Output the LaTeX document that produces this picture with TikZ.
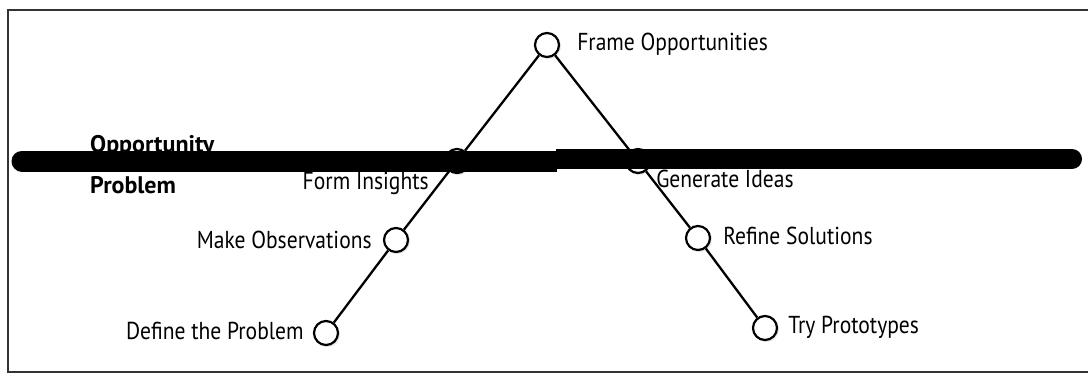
\documentclass[tikz,border=0pt]{standalone}
\usepackage{fontspec}
\setmainfont{PT Sans}[FakeStretch=0.88]
\newfontfamily\sidesans{PT Sans}
\usetikzlibrary{positioning,shadows}

\begin{document}
\begin{tikzpicture}[x=1pt,y=-1pt,
  stage/.style={circle,draw,line width=2.2pt,fill=white,minimum size=24pt,inner sep=0pt,
    circular drop shadow={shadow xshift=1pt,shadow yshift=-1pt,opacity=.25}},
  lbl/.style={inner sep=0pt,font=\fontsize{24.5}{28}\selectfont,text height=17pt,text depth=0pt},
  side/.style={inner sep=0pt,font=\sidesans\fontsize{24}{28}\selectfont\bfseries},
  arm/.style={line width=2.3pt}]
\useasboundingbox (0,0) rectangle (1088,378);
\draw[line width=1.8pt,black!80] (1088,10)--(8,10)--(8,372)--(1088,372);

% the two arms
\node[stage] (frame) at (547,45) {};
\node[stage] (ins) at (457,161) {};
\node[stage] (obs) at (396,240) {};
\node[stage] (define) at (326,333) {};
\node[stage] (gen) at (638,161) {};
\node[stage] (refine) at (698,238) {};
\node[stage] (try) at (765,328) {};
\draw[arm] (frame)--(ins)--(obs)--(define);
\draw[arm] (frame)--(gen)--(refine)--(try);

\node[lbl,right=17pt of frame,yshift=3.5pt] (frameL) {Frame Opportunities};
\node[lbl,left=15pt of ins,yshift=-20pt] (insL) {Form Insights};
\node[lbl,left=11pt of obs] (obsL) {Make Observations};
\node[lbl,left=9pt of define,yshift=2.5pt] (defineL) {Define the Problem};
\node[lbl,right=5pt of gen,yshift=-18pt] (genL) {Generate Ideas};
\node[lbl,right=12pt of refine,yshift=2.5pt] (refineL) {Refine Solutions};
\node[lbl,right=10pt of try,yshift=3pt] (tryL) {Try Prototypes};

\node[side,anchor=base west] (opp) at (90,152) {Opportunity};
\node[side,anchor=base west] (prob) at (90,193) {Problem};

% bar between the two spaces, rounded at the outer ends only
\draw[line width=21pt] (22,161)--(557,161);
\draw[line width=21pt,line cap=round] (22,161)--(30,161);
\draw[line width=20pt] (556,159)--(1072,159);
\draw[line width=20pt,line cap=round] (1064,159)--(1072,159);
\end{tikzpicture}
\end{document}
